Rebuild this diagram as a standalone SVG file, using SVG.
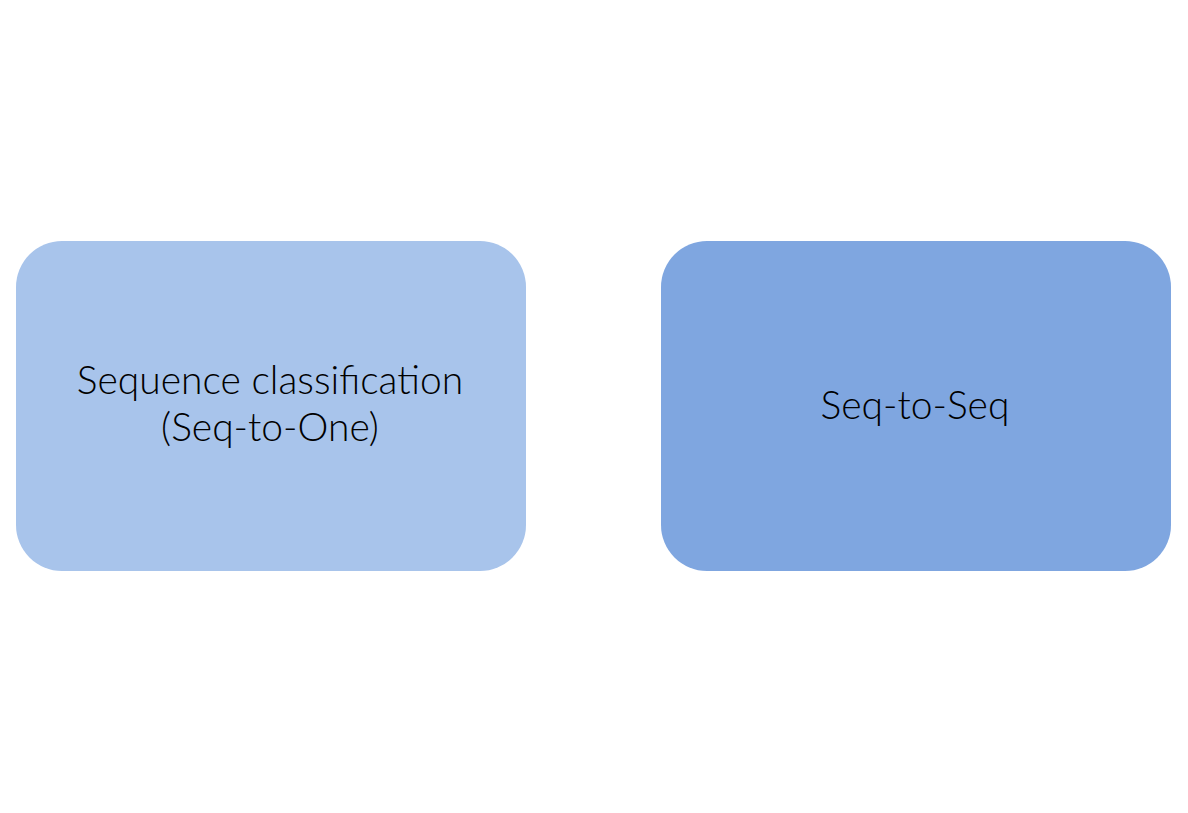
<svg xmlns="http://www.w3.org/2000/svg" width="1188" height="813" viewBox="0 0 1188 813">
<style>
.lbl{font-family:"Lato","Open Sans","Liberation Sans",sans-serif;font-size:39px;font-weight:300;fill:#000;text-anchor:middle}
</style>
<rect width="1188" height="813" fill="#ffffff"/>
<g id="node-seq-to-one">
<rect x="16" y="241" width="510" height="330" rx="46" ry="46" fill="#a8c4eb"/>
<text class="lbl" x="270" y="394">Sequence classification</text>
<text class="lbl" x="270" y="441">(Seq-to-One)</text>
</g>
<g id="node-seq-to-seq">
<rect x="661" y="241" width="510" height="330" rx="46" ry="46" fill="#7fa6e0"/>
<text class="lbl" x="915" y="419">Seq-to-Seq</text>
</g>
<g id="connectors"></g>
</svg>
